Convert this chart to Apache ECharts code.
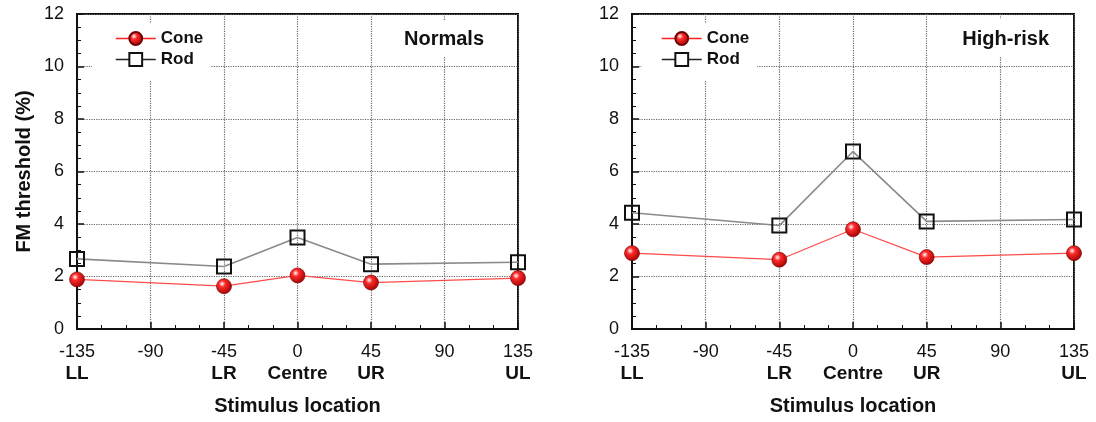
<!DOCTYPE html>
<html>
<head>
<meta charset="utf-8">
<script src="https://cdn.jsdelivr.net/npm/echarts@6/dist/echarts.min.js"></script>
<style>
  html, body { margin: 0; padding: 0; background: #fff; }
  #chart { width: 1096px; height: 422px; }
</style>
</head>
<body>
<div id="chart"></div>
<script>
// stimulus positions (deg) and values
const positions = [-135, -45, 0, 45, 135];
const locationNames = { '-135': 'LL', '-45': 'LR', '0': 'Centre', '45': 'UR', '135': 'UL' };
const normalsCone = [1.89, 1.63, 2.04, 1.77, 1.94];
const normalsRod = [2.67, 2.38, 3.49, 2.47, 2.54];
const highRiskCone = [2.89, 2.64, 3.80, 2.74, 2.89];
const highRiskRod = [4.43, 3.94, 6.76, 4.10, 4.17];
const panelTitles = ['Normals', 'High-risk'];

const font = 'Liberation Sans, Arial, sans-serif';
const chart = echarts.init(document.getElementById('chart'));

const pairs = (vals) => positions.map((p, i) => [p, vals[i]]);

const sphere = {
  type: 'radial', x: 0.38, y: 0.35, r: 0.7,
  colorStops: [
    { offset: 0, color: '#ffffff' },
    { offset: 0.3, color: '#ff2a2a' },
    { offset: 1, color: '#9a0000' }
  ]
};

function xAxisFor(idx) {
  return {
    gridIndex: idx, type: 'value', min: -135, max: 135, interval: 45,
    name: 'Stimulus location', nameLocation: 'middle', nameGap: 67,
    nameTextStyle: { fontFamily: font, fontSize: 20, fontWeight: 'bold', color: '#111' },
    axisLine: { onZero: false, lineStyle: { color: '#111', width: 2 } },
    axisTick: { inside: true, length: 7, lineStyle: { color: '#111', width: 1.5 } },
    minorTick: { show: true, splitNumber: 3, length: 4, lineStyle: { color: '#111' } },
    splitLine: { show: true, lineStyle: { type: 'dotted', color: '#666', width: 1.2 } },
    axisLabel: {
      margin: 13, fontFamily: font, fontSize: 18, color: '#111', lineHeight: 21,
      formatter: (v) => locationNames[v] ? v + '\n{b|' + locationNames[v] + '}' : String(v),
      rich: { b: { fontFamily: font, fontSize: 19, fontWeight: 'bold', color: '#111', lineHeight: 21 } }
    }
  };
}

function yAxisFor(idx) {
  return {
    gridIndex: idx, type: 'value', min: 0, max: 12, interval: 2,
    name: idx === 0 ? 'FM threshold (%)' : '', nameLocation: 'middle', nameGap: 43,
    nameTextStyle: { fontFamily: font, fontSize: 20, fontWeight: 'bold', color: '#111' },
    axisLine: { show: true, onZero: false, lineStyle: { color: '#111', width: 2 } },
    axisTick: { inside: true, length: 7, lineStyle: { color: '#111', width: 1.5 } },
    minorTick: { show: true, splitNumber: 4, length: 4, lineStyle: { color: '#111' } },
    splitLine: { show: true, lineStyle: { type: 'dotted', color: '#666', width: 1.2 } },
    axisLabel: { margin: 13, fontFamily: font, fontSize: 18, color: '#111' }
  };
}

function coneSeries(idx, vals) {
  return {
    name: 'Cone', type: 'line', xAxisIndex: idx, yAxisIndex: idx, data: pairs(vals),
    symbol: 'circle', symbolSize: 15, z: 4,
    lineStyle: { color: '#ff4a4a', width: 1.2 },
    itemStyle: { color: sphere, borderColor: '#700000', borderWidth: 0.6 }
  };
}

function rodSeries(idx, vals) {
  return {
    name: 'Rod', type: 'line', xAxisIndex: idx, yAxisIndex: idx, data: pairs(vals),
    symbol: 'rect', symbolSize: 14, z: 3,
    lineStyle: { color: '#8a8a8a', width: 1.6 },
    itemStyle: { color: 'rgba(255,255,255,0)', borderColor: '#111', borderWidth: 2 }
  };
}

function legendFor(left, padLeft) {
  return {
    left: left, top: 23, orient: 'vertical', itemGap: 4, itemWidth: 40, itemHeight: 16,
    itemTextGap: 8, backgroundColor: '#fff', padding: [7, 8, 13, padLeft],
    data: [
      { name: 'Cone', itemStyle: { color: sphere, borderColor: '#700000' }, lineStyle: { color: '#ff2020', width: 1.5 } },
      { name: 'Rod', itemStyle: { color: '#fff', borderColor: '#111', borderWidth: 2 }, lineStyle: { color: '#222', width: 1.5 } }
    ],
    textStyle: { fontFamily: font, fontSize: 17, fontWeight: 'bold', color: '#111' }
  };
}

const titleStyle = { fontFamily: font, fontSize: 20, fontWeight: 'bold', color: '#111' };

const option = {
  animation: false,
  backgroundColor: '#fff',
  title: [
    { text: panelTitles[0], right: 606, top: 21, backgroundColor: '#fff', padding: [8, 6], textStyle: titleStyle },
    { text: panelTitles[1], right: 41, top: 19, backgroundColor: '#fff', padding: [10, 6, 8, 6], textStyle: titleStyle }
  ],
  legend: [legendFor(92, 23), legendFor(642, 19)],
  grid: [
    { left: 77, right: 578, top: 14, bottom: 93, show: true, borderColor: '#111', borderWidth: 2 },
    { left: 632, right: 22, top: 14, bottom: 93, show: true, borderColor: '#111', borderWidth: 2 }
  ],
  xAxis: [xAxisFor(0), xAxisFor(1)],
  yAxis: [yAxisFor(0), yAxisFor(1)],
  series: [
    rodSeries(0, normalsRod), coneSeries(0, normalsCone),
    rodSeries(1, highRiskRod), coneSeries(1, highRiskCone)
  ]
};

chart.setOption(option);
</script>
</body>
</html>
